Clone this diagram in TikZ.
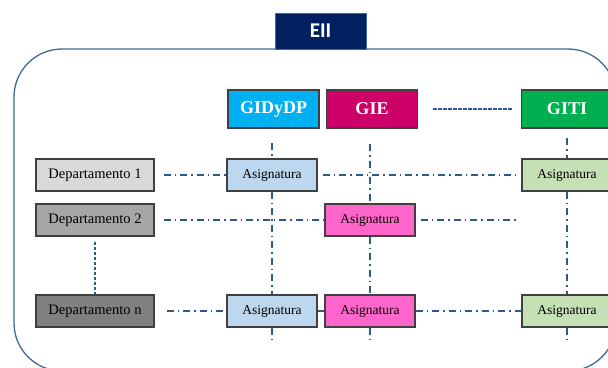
\documentclass[tikz,border=0pt]{standalone}
\usepackage{fontspec}
\setmainfont{Liberation Serif}
\newfontfamily\eiifont{Carlito}
\usetikzlibrary{positioning}

\definecolor{eiinavy}{RGB}{0,32,96}
\definecolor{framecol}{RGB}{65,105,150}
\definecolor{linkblue}{RGB}{46,89,139}
\definecolor{boxline}{RGB}{64,64,64}
\definecolor{gidcyan}{RGB}{0,176,240}
\definecolor{giemag}{RGB}{204,0,102}
\definecolor{gitigreen}{RGB}{0,176,80}
\definecolor{asigblue}{RGB}{189,215,238}
\definecolor{asigpink}{RGB}{255,102,204}
\definecolor{asiggreen}{RGB}{197,224,180}

\begin{document}
\begin{tikzpicture}[x=1pt,y=-1pt,
	box/.style={draw=boxline, line width=1.1pt, minimum height=32pt, inner sep=0pt},
	hdr/.style={box, minimum width=91pt, minimum height=38pt, text=white, font=\fontsize{18}{18}\selectfont\bfseries},
	dep/.style={box, minimum width=118pt, font=\fontsize{14.5}{15}\selectfont},
	asig/.style={box, minimum width=90pt, font=\fontsize{13.5}{14}\selectfont},
	dashdot/.style={draw=linkblue, line width=1.3pt, dash pattern=on 7pt off 4pt on 1.5pt off 4pt},
	dense/.style={draw=linkblue, line width=1.3pt, dash pattern=on 3.5pt off 1.5pt}]
	
	\useasboundingbox (0,0) rectangle (608,367);
	\clip (0,0) rectangle (608,367);
	
	% marco de la escuela
	\draw[framecol, line width=1.3pt, rounded corners=48pt] (14,49) rectangle (616,371);
	\node[fill=eiinavy, draw=framecol, minimum width=91pt, minimum height=36pt, inner sep=0pt,
		text=white, font=\eiifont\fontsize{21}{21}\selectfont\bfseries] (eii) at (320.5,31) {EII};
	
	% grados
	\node[hdr, fill=gidcyan] (gidydp) at (273.5,109) {GIDyDP};
	\node[hdr, fill=giemag] (gie) at (372,109) {GIE};
	\node[hdr, fill=gitigreen] (giti) at (567,109) {GITI};
	
	% departamentos
	\node[dep, fill=black!15] (dep1) at (95,175) {Departamento 1};
	\node[dep, fill=black!35] (dep2) at (95,220) {Departamento 2};
	\node[dep, fill=black!50] (depn) at (95,311) {Departamento n};
	
	% asignaturas
	\node[asig, fill=asigblue] (a1) at (272,175) {Asignatura};
	\node[asig, fill=asigblue] (an) at (272,311) {Asignatura};
	\node[asig, fill=asigpink] (b2) at (370,220) {Asignatura};
	\node[asig, fill=asigpink] (bn) at (370,311) {Asignatura};
	\node[asig, fill=asiggreen] (c1) at (567,175) {Asignatura};
	\node[asig, fill=asiggreen] (cn) at (567,311) {Asignatura};
	
	\coordinate (top1) at (272,143);
	\coordinate (bot1) at (272,343);
	\coordinate (top2) at (370,144);
	\coordinate (bot2) at (370,343);
	\coordinate (top3) at (567,138);
	\coordinate (bot3) at (567,340);
	\coordinate (end2) at (518,220);
	
	% columnas
	\draw[dashdot] (top1) -- (a1);
	\draw[dashdot] (a1) -- (an);
	\draw[dashdot] (an) -- (bot1);
	\draw[dashdot] (top2) -- (b2);
	\draw[dashdot] (b2) -- (bn);
	\draw[dashdot] (bn) -- (bot2);
	\draw[dashdot] (top3) -- (c1);
	\draw[dashdot] (c1) -- (cn);
	\draw[dashdot] (cn) -- (bot3);
	
	% filas
	\draw[dashdot, shorten <=9pt] (dep1) -- (a1);
	\draw[dashdot, shorten <=5pt, shorten >=5pt] (a1) -- (c1);
	\draw[dashdot, shorten <=9pt] (dep2) -- (b2);
	\draw[dashdot, shorten <=5pt] (b2) -- (end2);
	\draw[dashdot, shorten <=12pt] (depn) -- (an);
	\draw[dashdot] (an) -- (bn);
	\draw[dashdot] (bn) -- (cn);
	
	\draw[dense, shorten <=5pt] (dep2) -- (depn);
	\draw[dense, shorten <=15pt, shorten >=8pt] (gie) -- (giti);
\end{tikzpicture}
\end{document}
